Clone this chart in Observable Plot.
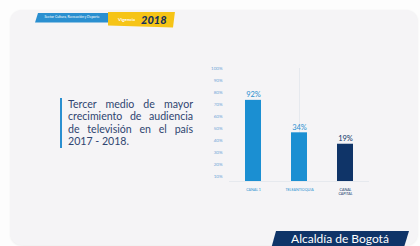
<!DOCTYPE html>
<html>
<head>
<meta charset="utf-8">
<script src="https://cdn.jsdelivr.net/npm/d3@7"></script>
<script src="https://cdn.jsdelivr.net/npm/@observablehq/plot@0.6"></script>
<style>
  html, body { margin: 0; padding: 0; background: #fdfdfd; }
  #wrap { position: relative; width: 420px; height: 246px; overflow: hidden; background: #fdfdfd; font-family: Lato, "Open Sans", sans-serif; }
  #card { position: absolute; left: 10px; top: 9.5px; width: 408px; height: 235px; background: #f5f4f6; border-radius: 12px; box-shadow: 0 0.5px 2px rgba(0,0,0,0.06); }
  #tagBlue { position: absolute; left: 35px; top: 13px; width: 74px; height: 9.5px; background: #2a8fd0; clip-path: polygon(3px 0, 100% 0, 100% 100%, 0 100%); color: #fff; font-size: 3.4px; line-height: 9.5px; text-align: center; white-space: nowrap; }
  #tagYellow { position: absolute; left: 108px; top: 11.5px; width: 67px; height: 16px; background: #f6c417; clip-path: polygon(0 0, 100% 0, 97% 100%, 0 88%); white-space: nowrap; }
  #tagYellow .v { position: absolute; left: 10px; top: 5px; font-size: 4.5px; color: #fff; font-weight: 700; }
  #tagYellow .y { position: absolute; left: 33px; top: 1px; font-size: 11px; color: #13305c; font-weight: 900; font-style: italic; }
  #text { position: absolute; left: 60px; top: 98px; width: 125px; padding-left: 6px; border-left: 2.5px solid #2a8fd0; color: #2f4470; font-size: 10.6px; line-height: 12.4px; text-align: justify; text-align-last: left; }
  #banner { position: absolute; left: 271px; top: 231px; width: 138px; height: 18px; background: #0f3468; clip-path: polygon(5px 0, 100% 0, 96% 100%, 0 100%); color: #fff; font-size: 12px; line-height: 15px; text-align: center; white-space: nowrap; }
  #chart { position: absolute; left: 0; top: 0; }
</style>
</head>
<body>
<div id="wrap">
  <div id="card"></div>
  <div id="tagBlue">Sector Cultura, Recreación y Deporte</div>
  <div id="tagYellow"><span class="v">Vigencia</span><span class="y">2018</span></div>
  <div id="text">Tercer medio de mayor crecimiento de audiencia de televisión en el país 2017 - 2018.</div>
  <div id="chart"></div>
  <div id="banner">Alcaldía de Bogotá</div>
</div>
<script>
// Categories, labelled shares, and bar heights as drawn against the chart's axis
const categories = ["CANAL 1", "TELEANTIOQUIA", "CANAL\nCAPITAL"];
const shareLabels = ["92%", "34%", "19%"];
const barHeights = [73.5, 46.5, 37];
const barColors = ["#1b8fd2", "#1b8fd2", "#0f3468"];
const labelColors = ["#2a8fd0", "#2a8fd0", "#0f3468"];
const yTicks = [10, 20, 30, 40, 50, 60, 70, 80, 90, 100];
const yBase = 6;

const data = categories.map((c, i) => ({
  cat: c, h: barHeights[i], label: shareLabels[i], color: barColors[i], lc: labelColors[i], bold: i === 2
}));

const chart = Plot.plot({
  width: 420,
  height: 246,
  marginLeft: 229,
  marginRight: 51,
  marginTop: 68,
  marginBottom: 65,
  style: { background: "transparent", fontFamily: "Lato, 'Open Sans', sans-serif", fontSize: "4.5px", color: "#6fa6d6" },
  x: { domain: categories, paddingInner: 0.645, paddingOuter: 0.328, axis: null },
  y: { domain: [yBase, 100], ticks: yTicks, tickFormat: d => d + "%", tickSize: 0, tickPadding: 7, label: null },
  marks: [
    Plot.ruleX([0], { frameAnchor: "left", x: null, stroke: "#e2e6ec", strokeWidth: 0.8 }),
    Plot.ruleY([yBase], { stroke: "#e2e6ec", strokeWidth: 0.8 }),
    Plot.barY(data, { x: "cat", y1: yBase, y2: "h", fill: d => d.color }),
    Plot.text(data, { x: "cat", y: "h", text: "label", dy: -3, lineAnchor: "bottom", fill: d => d.lc, fontSize: 7.5, fontWeight: d => d.bold ? 700 : 400 }),
    Plot.text(data, { x: "cat", text: "cat", frameAnchor: "bottom", dy: 7, lineAnchor: "top", fill: d => d.lc, fontSize: 3.6, fontWeight: d => d.bold ? 700 : 400 })
  ]
});
document.getElementById("chart").appendChild(chart);
</script>
</body>
</html>
